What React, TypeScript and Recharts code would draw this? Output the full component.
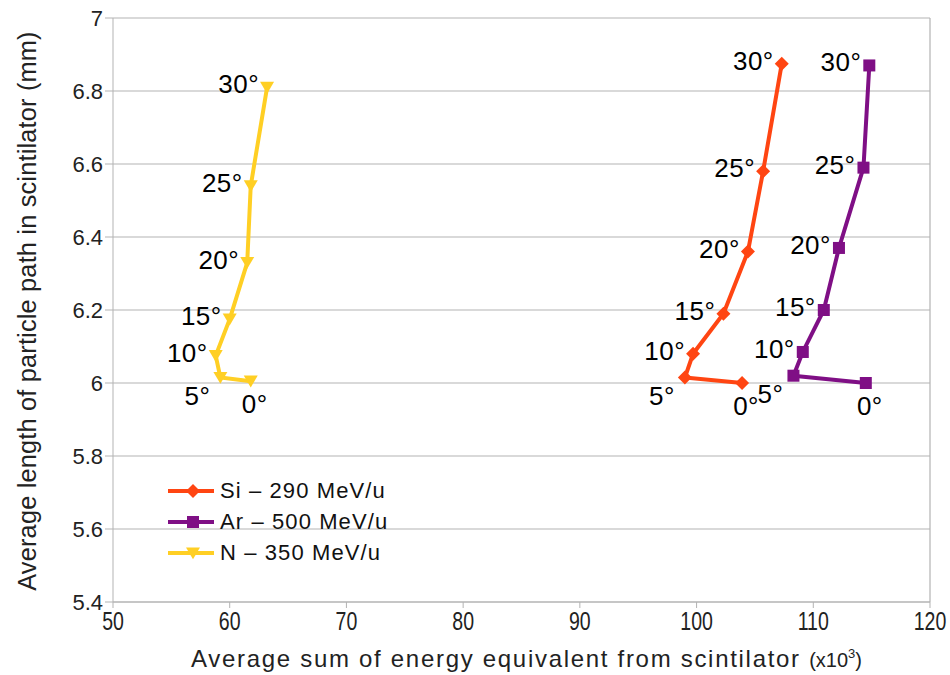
import React from "react";
import {
  ScatterChart,
  Scatter,
  XAxis,
  YAxis,
  CartesianGrid,
  ReferenceLine,
} from "recharts";

const angles = [0, 5, 10, 15, 20, 25, 30];
const siEnergy = [103.9, 99.0, 99.7, 102.3, 104.4, 105.7, 107.3];
const siLength = [6.0, 6.015, 6.08, 6.19, 6.36, 6.58, 6.875];
const arEnergy = [114.5, 108.3, 109.1, 110.9, 112.2, 114.3, 114.8];
const arLength = [6.0, 6.02, 6.085, 6.2, 6.37, 6.59, 6.87];
const nEnergy = [61.8, 59.2, 58.8, 60.0, 61.5, 61.8, 63.2];
const nLength = [6.005, 6.015, 6.075, 6.175, 6.33, 6.54, 6.81];

const xTicks = [50, 60, 70, 80, 90, 100, 110, 120];
const yTicks = [5.4, 5.6, 5.8, 6, 6.2, 6.4, 6.6, 6.8, 7];
const yTickLabels = ["5.4", "5.6", "5.8", "6", "6.2", "6.4", "6.6", "6.8", "7"];

const seriesNames = ["Si – 290 MeV/u", "Ar – 500 MeV/u", "N – 350 MeV/u"];
const yTitle = "Average length of particle path in scintilator (mm)";
const xTitle = "Average sum of energy equivalent from scintilator";

const build = (xs: number[], ys: number[]) =>
  angles.map((a, i) => ({ angle: a, energy: xs[i], length: ys[i] }));

const siData = build(siEnergy, siLength);
const arData = build(arEnergy, arLength);
const nData = build(nEnergy, nLength);

const COLORS = { si: "#ff4512", ar: "#7f0f85", n: "#ffcf24" };
const FONT = "'Liberation Sans', Arial, sans-serif";

type Kind = "diamond" | "square" | "triangle";

const Marker = ({ kind, cx, cy, color }: { kind: Kind; cx: number; cy: number; color: string }) => {
  if (kind === "diamond") {
    const r = 7;
    return <polygon points={`${cx},${cy - r} ${cx + r},${cy} ${cx},${cy + r} ${cx - r},${cy}`} fill={color} />;
  }
  if (kind === "square") {
    const r = 6;
    return <rect x={cx - r} y={cy - r} width={2 * r} height={2 * r} fill={color} />;
  }
  const r = 7;
  return <polygon points={`${cx - r},${cy - r * 0.8} ${cx + r},${cy - r * 0.8} ${cx},${cy + r * 0.9}`} fill={color} />;
};

const makeShape = (kind: Kind, color: string) => (props: any) => {
  const { cx, cy, payload } = props;
  if (cx == null || cy == null) return <g />;
  const a = payload.angle;
  let tx = cx - 8;
  let ty = cy + 6;
  let anchor: "end" | "middle" | "start" = "end";
  if (a === 0) {
    tx = cx + 4;
    ty = cy + 32;
    anchor = "middle";
  } else if (a === 5) {
    tx = cx - 10;
    ty = cy + 27;
  }
  return (
    <g>
      <Marker kind={kind} cx={cx} cy={cy} color={color} />
      <text x={tx} y={ty} textAnchor={anchor} fontSize={26} letterSpacing={0.5} fontFamily={FONT} fill="#000">
        {`${a}°`}
      </text>
    </g>
  );
};

const LegendBox = () => {
  const items: { kind: Kind; color: string; name: string }[] = [
    { kind: "diamond", color: COLORS.si, name: seriesNames[0] },
    { kind: "square", color: COLORS.ar, name: seriesNames[1] },
    { kind: "triangle", color: COLORS.n, name: seriesNames[2] },
  ];
  return (
    <div style={{ position: "absolute", left: 166, top: 475, fontFamily: FONT }}>
      {items.map((it) => (
        <div key={it.name} style={{ display: "flex", alignItems: "center", height: 31 }}>
          <svg width={50} height={20} style={{ marginRight: 4 }}>
            <line x1={2} y1={10} x2={48} y2={10} stroke={it.color} strokeWidth={4} />
            <Marker kind={it.kind} cx={27} cy={10} color={it.color} />
          </svg>
          <span style={{ fontSize: 22, letterSpacing: 1.1, color: "#111" }}>{it.name}</span>
        </div>
      ))}
    </div>
  );
};

const XTitle = (props: any) => {
  const vb = props.viewBox || {};
  const cx = (vb.x || 0) + (vb.width || 0) / 2 + 5;
  const y = (vb.y || 0) + (vb.height || 0) - 8;
  return (
    <text x={cx} y={y} textAnchor="middle" fontFamily={FONT} fill="#222">
      <tspan fontSize={24} letterSpacing={1.7}>{xTitle} </tspan>
      <tspan fontSize={20}>(x10</tspan>
      <tspan fontSize={13} dy={-9}>3</tspan>
      <tspan fontSize={20} dy={9}>)</tspan>
    </text>
  );
};

const YTitle = (props: any) => {
  const vb = props.viewBox || {};
  const cy = (vb.y || 0) + (vb.height || 0) / 2 + 1;
  return (
    <text
      transform={`translate(36, ${cy}) rotate(-90)`}
      textAnchor="middle"
      fontSize={25.3}
      letterSpacing={0.2}
      fontFamily={FONT}
      fill="#222"
    >
      {yTitle}
    </text>
  );
};

const XTick = (props: any) => {
  const { x, y, payload } = props;
  return (
    <text
      x={0}
      y={0}
      transform={`translate(${x},${y + 20}) scale(0.85,1.1)`}
      textAnchor="middle"
      fontSize={23}
      fontFamily={FONT}
      fill="#222"
    >
      {payload.value}
    </text>
  );
};

export default function App() {
  return (
    <div style={{ position: "absolute", left: 0, top: 0, width: 950, height: 675, background: "#fff" }}>
      <ScatterChart width={950} height={675} margin={{ top: 18, right: 20, bottom: 0, left: 0 }}>
        <CartesianGrid vertical={false} stroke="#b3b3b3" strokeWidth={1.2} />
        <XAxis
          type="number"
          dataKey="energy"
          domain={[50, 120]}
          ticks={xTicks}
          interval={0}
          height={73}
          stroke="#b3b3b3"
          tickSize={6}
          tick={<XTick />}
          label={<XTitle />}
          allowDataOverflow
        />
        <YAxis
          type="number"
          dataKey="length"
          domain={[5.4, 7]}
          ticks={yTicks}
          interval={0}
          width={113}
          stroke="#b3b3b3"
          tickSize={8}
          tickFormatter={(v: number) => yTickLabels[yTicks.indexOf(v)] ?? String(v)}
          tick={{ fill: "#222", fontSize: 22, fontFamily: FONT }}
          label={<YTitle />}
          allowDataOverflow
        />
        <ReferenceLine x={120} stroke="#b3b3b3" strokeWidth={1.2} />
        <Scatter
          name={seriesNames[0]}
          data={siData}
          fill={COLORS.si}
          line={{ stroke: COLORS.si, strokeWidth: 4 }}
          shape={makeShape("diamond", COLORS.si)}
          isAnimationActive={false}
        />
        <Scatter
          name={seriesNames[1]}
          data={arData}
          fill={COLORS.ar}
          line={{ stroke: COLORS.ar, strokeWidth: 4 }}
          shape={makeShape("square", COLORS.ar)}
          isAnimationActive={false}
        />
        <Scatter
          name={seriesNames[2]}
          data={nData}
          fill={COLORS.n}
          line={{ stroke: COLORS.n, strokeWidth: 4 }}
          shape={makeShape("triangle", COLORS.n)}
          isAnimationActive={false}
        />
      </ScatterChart>
      <LegendBox />
    </div>
  );
}
